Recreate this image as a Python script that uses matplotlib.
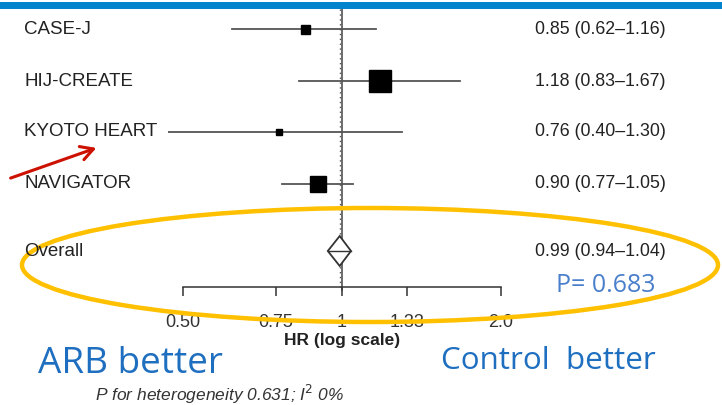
import numpy as np
import matplotlib
matplotlib.use("Agg")
import matplotlib.pyplot as plt
from matplotlib.patches import Ellipse, Polygon, Rectangle

# study data
studies = ["CASE-J", "HIJ-CREATE", "KYOTO HEART", "NAVIGATOR"]
hr = [0.85, 1.18, 0.76, 0.90]
lo = [0.62, 0.83, 0.40, 0.77]
hi = [1.16, 1.67, 1.30, 1.05]
box_px = [9, 22, 6, 16]   # box side in pixels (study weight)

overall_hr = 0.99
overall_lo = 0.94
overall_hi = 1.04

ticks = [0.50, 0.75, 1.0, 1.33, 2.0]
tick_labels = ["0.50", "0.75", "1", "1.33", "2.0"]

W, H = 722, 405
DPI = 100
row_y = [29, 81, 132, 184, 251]
axis_y = 287
x_one = 342        # pixel of HR = 1
px_per_ln = 229.4  # pixels per unit of ln(HR)
left_px = 168      # forest panel clipped here

plt.rcParams['font.family'] = ['Liberation Sans', 'DejaVu Sans']

fig = plt.figure(figsize=(W / DPI, H / DPI), dpi=DPI)
fig.patch.set_facecolor("white")

# forest panel (log x, pixel-like y)
ax = fig.add_axes([left_px / W, 0, (W - left_px) / W, 1])
ax.set_xscale("log")
ax.set_xlim(np.exp((left_px - x_one) / px_per_ln), np.exp((W - x_one) / px_per_ln))
ax.set_ylim(H, 0)
ax.patch.set_alpha(0)
ax.minorticks_off()
for s in ["top", "left", "right"]:
    ax.spines[s].set_visible(False)
ax.spines["bottom"].set_position(("data", axis_y))
ax.spines["bottom"].set_bounds(ticks[0], ticks[-1])
ax.spines["bottom"].set_color("#333333")
ax.spines["bottom"].set_linewidth(1.1)
ax.set_yticks([])
ax.set_xticks(ticks)
ax.set_xticklabels(tick_labels)
ax.tick_params(axis="x", direction="out", length=6.5, width=1.1, color="#333333",
               pad=13, labelsize=13, labelcolor="#333333")
ax.xaxis.set_minor_locator(matplotlib.ticker.NullLocator())

# reference lines
ax.plot([1, 1], [9, axis_y + 3], color="#444444", lw=1.1, zorder=1)
ax.plot([overall_hr, overall_hr], [9, axis_y], color="#555555", lw=1.0,
        ls=(0, (1, 2.5)), zorder=1)

for i in range(len(studies)):
    y = row_y[i]
    ax.plot([lo[i], hi[i]], [y, y], color="#555555", lw=1.3, zorder=2)
    ax.plot([hr[i]], [y], marker="s", color="black", ms=box_px[i] * 0.72,
            mec="black", zorder=3)

yo = row_y[4]
dh = 15
diamond = Polygon([(overall_lo, yo), (overall_hr, yo - dh), (overall_hi, yo), (overall_hr, yo + dh)],
                  closed=True, facecolor="white", edgecolor="#333333", lw=1.3, zorder=3)
ax.add_patch(diamond)
ax.plot([overall_lo, overall_hi], [yo, yo], color="#333333", lw=1.0, zorder=4)

# overlay in pixel coordinates
ov = fig.add_axes([0, 0, 1, 1])
ov.set_xlim(0, W)
ov.set_ylim(H, 0)
ov.axis("off")
ov.patch.set_alpha(0)

ov.add_patch(Rectangle((0, 2), W, 7, color="#0484CC", lw=0))

labels = studies + ["Overall"]
ests = ["%.2f (%.2f\u2013%.2f)" % (hr[i], lo[i], hi[i]) for i in range(len(studies))]
ests.append("%.2f (%.2f\u2013%.2f)" % (overall_hr, overall_lo, overall_hi))
for i in range(len(labels)):
    ov.text(24, row_y[i], labels[i], fontsize=13.5, color="#222222", va="center", ha="left")
    ov.text(535, row_y[i], ests[i], fontsize=12.8, color="#222222", va="center", ha="left")

ov.text(x_one, 340, "HR (log scale)", fontsize=12.5, fontweight="bold", color="#222222",
        ha="center", va="center")

ov.add_patch(Ellipse((370, 265), 696, 114, fill=False, edgecolor="#FFC000", lw=3.2))

ov.text(556, 292, "P= 0.683", fontsize=18, color="#4A7FCC", family="Open Sans",
        ha="left", va="baseline")
ov.text(38, 373, "ARB better", fontsize=26.6, color="#1F6FC0", family="Open Sans",
        ha="left", va="baseline")
ov.text(441, 369, "Control  better", fontsize=22.6, color="#1F6FC0", family="Open Sans",
        ha="left", va="baseline")
ov.text(95, 394, "P for heterogeneity 0.631; I$^2$ 0%", fontsize=12.5, style="italic",
        color="#333333", ha="left", va="center")

ov.annotate("", xy=(99, 147), xytext=(8, 179),
            arrowprops=dict(arrowstyle="->,head_length=0.9,head_width=0.5",
                            color="#CC1100", lw=2.2))

fig.savefig("out.png", dpi=DPI)
